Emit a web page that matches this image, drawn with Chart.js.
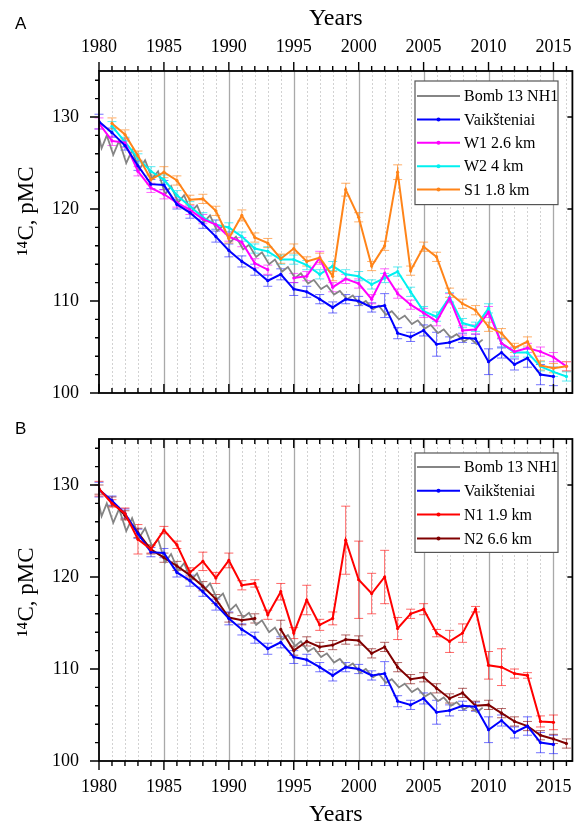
<!DOCTYPE html>
<html>
<head>
<meta charset="utf-8">
<title>14C in tree rings</title>
<script src="https://cdn.jsdelivr.net/npm/chart.js@4.4.1/dist/chart.umd.min.js"></script>
<style>
  html, body { margin: 0; padding: 0; background: #fff; overflow: hidden; }
  #wrap { position: relative; width: 574px; height: 830px; overflow: hidden; }
  .panel { position: absolute; left: 0; width: 574px; }
  #panelA { top: 0; height: 400px; }
  #panelB { top: 400px; height: 430px; }
  .tag { position: absolute; left: 15px; font: 17px 'Liberation Sans', Arial, sans-serif; color: #000; line-height: 20px; }
</style>
</head>
<body>
<div id="wrap">
  <div class="panel" id="panelA"><canvas id="chartA"></canvas></div>
  <div class="panel" id="panelB"><canvas id="chartB"></canvas></div>
  <div class="tag" style="top:14px">A</div>
  <div class="tag" style="top:419px">B</div>
</div>
<script>
// ── Data (pMC) ──────────────────────────────────────────────
const years = [1980, 1981, 1982, 1983, 1984, 1985, 1986, 1987, 1988, 1989,
               1990, 1991, 1992, 1993, 1994, 1995, 1996, 1997, 1998, 1999,
               2000, 2001, 2002, 2003, 2004, 2005, 2006, 2007, 2008, 2009,
               2010, 2011, 2012, 2013, 2014, 2015, 2016];

const vaiksteniai    = [129.5, 128.3, 126.9, 124.7, 122.7, 122.6, 120.5, 119.6, 118.4, 117.0,
                        115.5, 114.3, 113.4, 112.2, 112.9, 111.3, 111.0, 110.2, 109.3, 110.2,
                        110.0, 109.3, 109.5, 106.5, 106.1, 106.8, 105.3, 105.5, 106.0, 105.9,
                        103.4, 104.4, 103.1, 103.8, 102.0, 101.8, null];
const vaiksteniaiErr = [0.8, 0.5, 0.5, 0.5, 0.5, 0.5, 0.5, 0.6, 0.5, 0.6,
                        0.7, 0.6, 0.6, 0.6, 0.6, 0.7, 0.6, 0.5, 0.6, 0.5,
                        0.5, 0.5, 1.3, 0.6, 0.5, 0.6, 1.3, 0.6, 0.5, 0.5,
                        1.4, 0.6, 0.6, 1.0, 1.1, 1.0, null];

const w1    = [129.3, 127.4, 127.2, 124.1, 122.3, 121.6, 120.7, 119.9, 118.9, 118.3,
               117.0, 116.4, 114.1, 113.4, null, 112.5, 112.7, 114.7, 111.5, 112.4,
               111.9, 110.2, 113.0, 110.8, 109.6, 108.7, 107.8, 110.3, 106.8, 106.9,
               108.8, 105.4, 104.5, 104.9, 104.5, 103.9, 102.9];
const w1Err = [0.6, 0.5, 0.5, 0.5, 0.5, 0.5, 0.5, 0.5, 0.5, 0.5,
               0.5, 0.5, 0.5, 0.5, null, 0.5, 0.5, 0.7, 0.5, 0.5,
               0.5, 0.5, 0.5, 0.5, 0.5, 0.5, 0.5, 0.5, 0.5, 0.5,
               0.6, 0.5, 0.5, 0.5, 0.5, 0.5, 0.5];

const w2    = [null, 129.0, 127.3, 125.5, 124.1, 123.2, 121.5, 120.3, 119.1, 118.3,
               118.0, 117.0, 115.7, 115.4, 114.5, 114.5, 113.9, 112.9, 113.8, 112.9,
               112.7, 111.8, 112.5, 113.2, 111.0, 108.9, 108.3, 110.4, 107.6, 107.2,
               109.2, 105.4, 104.4, 104.4, 102.9, 102.3, 101.8];
const w2Err = [null, 0.5, 0.5, 0.5, 0.5, 0.5, 0.5, 0.5, 0.5, 0.5,
               0.5, 0.5, 0.5, 0.5, 0.5, 0.5, 0.5, 0.5, 0.5, 0.5,
               0.5, 0.5, 0.5, 0.5, 0.5, 0.5, 0.5, 0.5, 0.5, 0.5,
               0.5, 0.5, 0.5, 0.5, 0.5, 0.5, 0.5];

const s1    = [null, 129.3, 128.1, 125.8, 123.2, 124.0, 123.1, 121.0, 121.1, 119.8,
               116.8, 119.3, 116.9, 116.3, 114.6, 115.7, 114.3, 114.7, 112.7, 122.1,
               119.1, 113.8, 116.0, 124.0, 113.3, 115.9, 114.8, 110.9, 109.7, 109.0,
               107.2, 106.5, 104.9, 105.6, 103.0, 102.7, 102.9];
const s1Err = [null, 0.6, 0.5, 0.5, 0.5, 0.6, 0.5, 0.5, 0.5, 0.5,
               0.5, 0.6, 0.5, 0.5, 0.5, 0.5, 0.5, 0.5, 0.5, 0.7,
               0.5, 0.5, 0.5, 0.8, 0.5, 0.5, 0.5, 0.5, 0.5, 0.5,
               0.5, 0.5, 0.5, 0.5, 0.5, 0.5, 0.5];

const n1    = [129.6, 128.0, 126.9, 124.1, 123.0, 125.1, 123.5, 120.5, 121.7, 119.9,
               121.8, 119.1, 119.3, 115.9, 118.4, 113.9, 117.5, 114.8, 115.5, 124.0,
               119.7, 118.2, 120.0, 114.4, 116.0, 116.5, 113.9, 113.0, 113.9, 116.5,
               110.4, 110.2, 109.5, 109.3, 104.3, 104.2, null];
const n1Err = [0.8, 0.4, 0.6, 1.6, 0.4, 0.4, 0.4, 0.5, 1.0, 0.6,
               0.8, 0.5, 0.4, 0.5, 0.9, 0.6, 1.6, 0.6, 0.7, 3.7,
               4.2, 2.2, 2.9, 1.2, 0.5, 0.6, 0.4, 1.2, 1.0, 0.3,
               1.5, 2.0, 0.5, 0.3, 0.6, 0.8, null];

const n2    = [129.5, 128.2, 126.7, 124.8, 123.0, 122.1, 121.2, 120.2, 119.0, 117.6,
               115.6, 115.3, 115.5, null, 114.3, 112.0, 113.0, 112.4, 112.6, 113.2,
               113.1, 111.7, 112.4, 110.2, 108.9, 109.1, 107.9, 106.8, 107.4, 106.0,
               106.1, 105.2, 104.3, 103.8, 102.8, 102.4, 101.9];
const n2Err = [0.5, 0.5, 0.5, 0.5, 0.5, 0.5, 0.5, 0.5, 0.5, 0.5,
               0.5, 0.5, 0.5, null, 1.0, 0.5, 0.5, 0.5, 0.5, 0.5,
               0.5, 0.5, 0.5, 0.5, 0.5, 0.5, 0.5, 0.5, 0.5, 0.5,
               0.5, 0.5, 0.5, 0.5, 0.5, 0.5, 0.5];

// Bomb13 NH1 atmospheric curve (seasonal lows / highs)
const bombYears  = [1980.0, 1980.2, 1980.6, 1981.1, 1981.55, 1982.1, 1982.55, 1983.1, 1983.55,
                    1984.1, 1984.55, 1985.1, 1985.55, 1986.1, 1986.55, 1987.1, 1987.55,
                    1988.1, 1988.55, 1989.1, 1989.55, 1990.1, 1990.55, 1991.1, 1991.55,
                    1992.1, 1992.55, 1993.1, 1993.55, 1994.1, 1994.55, 1995.1, 1995.55,
                    1996.1, 1996.55, 1997.1, 1997.55, 1998.1, 1998.55, 1999.1, 1999.55,
                    2000.1, 2000.55, 2001.1, 2001.55, 2002.1, 2002.55, 2003.1, 2003.55,
                    2004.1, 2004.55, 2005.1, 2005.55, 2006.1, 2006.55, 2007.1, 2007.55,
                    2008.1, 2008.55, 2009.1, 2009.55];
const bombValues = [127.9, 126.6, 128.0, 125.9, 127.4, 125.0, 126.4, 124.3, 125.3,
                    123.3, 124.1, 121.6, 122.5, 120.7, 121.5, 119.7, 120.4,
                    118.6, 119.3, 117.6, 118.2, 116.4, 117.0, 115.6, 116.1,
                    114.8, 115.3, 114.0, 114.5, 113.2, 113.7, 112.5, 113.0,
                    111.9, 112.3, 111.3, 111.7, 110.7, 111.1, 110.2, 110.6,
                    109.6, 110.0, 109.1, 109.5, 108.5, 108.9, 108.0, 108.4,
                    107.5, 107.9, 107.0, 107.4, 106.5, 106.9, 106.0, 106.4,
                    105.6, 106.0, 105.3, 105.8];

const yearTicks = [1980, 1985, 1990, 1995, 2000, 2005, 2010, 2015];
const pmcTicks  = [100, 110, 120, 130];

// ── Helpers ─────────────────────────────────────────────────
const SERIF = "'Liberation Serif', 'Times New Roman', serif";

const pts = (xs, ys) => xs.map((x, i) => ({ x, y: ys[i] }));

function series(label, vals, errs, color, errColor, order) {
  return {
    label, data: pts(years, vals), errors: errs, errorColor: errColor,
    borderColor: color, backgroundColor: color, borderWidth: 2,
    pointRadius: 1.6, pointHoverRadius: 0, pointBorderWidth: 0,
    tension: 0, spanGaps: false, order,
  };
}

function bombSeries() {
  return {
    label: 'Bomb 13 NH1', data: pts(bombYears, bombValues),
    borderColor: '#858585', backgroundColor: '#858585', borderWidth: 1.8,
    pointRadius: 0, tension: 0, order: 9,
  };
}

// kill the label-overflow padding Chart.js adds, so the plot box sits where we put it
function noPad(s) { s.paddingLeft = s.paddingRight = s.paddingTop = s.paddingBottom = 0; }

// vertical year grid, frame and tick marks
const frameAxes = {
  id: 'frameAxes',
  beforeDatasetsDraw(chart) {
    const { ctx, chartArea: a, scales: { x } } = chart;
    ctx.save();
    for (let yr = 1981; yr <= 2016; yr++) {
      const px = Math.round(x.getPixelForValue(yr)) + 0.5;
      const major = yr % 5 === 0;
      ctx.beginPath();
      ctx.setLineDash(major ? [] : [2, 2]);
      ctx.strokeStyle = major ? '#a9a9a9' : '#d2d2d2';
      ctx.lineWidth = major ? 1.3 : 1;
      ctx.moveTo(px, a.top); ctx.lineTo(px, a.bottom);
      ctx.stroke();
    }
    ctx.restore();
  },
  afterDatasetsDraw(chart, args, opts) {
    const { ctx, chartArea: a, scales: { x, y } } = chart;
    const dir = opts.outer === 'top' ? -1 : 1;
    ctx.save();
    ctx.setLineDash([]);
    ctx.strokeStyle = '#000';
    ctx.lineWidth = 1.4;
    ctx.beginPath();
    for (let yr = 1980; yr <= 2016; yr++) {
      const px = x.getPixelForValue(yr);
      const len = yr % 5 === 0 ? 9 : 5;
      ctx.moveTo(px, a.top); ctx.lineTo(px, a.top + dir * len);
      ctx.moveTo(px, a.bottom); ctx.lineTo(px, a.bottom + dir * len);
    }
    for (let v = 100; v <= 134; v += 2) {
      const py = y.getPixelForValue(v);
      const major = v % 10 === 0;
      ctx.moveTo(a.left, py); ctx.lineTo(a.left - (major ? 9 : 4), py);
      if (major) { ctx.moveTo(a.right, py); ctx.lineTo(a.right - 5, py); }
    }
    ctx.stroke();
    ctx.lineWidth = 1.8;
    ctx.strokeRect(a.left, a.top, a.right - a.left, a.bottom - a.top);

    // rotated y title, sits a little above the box centre as in the print
    ctx.translate(opts.titleX, opts.titleY);
    ctx.rotate(-Math.PI / 2);
    ctx.font = `23px ${SERIF}`;
    ctx.fillStyle = '#000';
    ctx.textAlign = 'center';
    ctx.textBaseline = 'middle';
    ctx.fillText('¹⁴C, pMC', 0, 0);
    ctx.restore();
  }
};

const errorBars = {
  id: 'errorBars',
  beforeDatasetsDraw(chart) {
    const { ctx, scales: { x, y } } = chart;
    chart.data.datasets.forEach(ds => {
      if (!ds.errors) return;
      ctx.save();
      ctx.strokeStyle = ds.errorColor;
      ctx.lineWidth = 1;
      ds.data.forEach((p, j) => {
        const e = ds.errors[j];
        if (p.y == null || e == null) return;
        const px = x.getPixelForValue(p.x);
        const top = y.getPixelForValue(p.y + e);
        const bot = y.getPixelForValue(p.y - e);
        ctx.beginPath();
        ctx.moveTo(px, top); ctx.lineTo(px, bot);
        ctx.moveTo(px - 4.5, top); ctx.lineTo(px + 4.5, top);
        ctx.moveTo(px - 4.5, bot); ctx.lineTo(px + 4.5, bot);
        ctx.stroke();
      });
      ctx.restore();
    });
  }
};

const boxLegend = {
  id: 'boxLegend',
  afterDraw(chart, args, o) {
    const { ctx } = chart;
    const items = chart.data.datasets;
    const h = o.first * 2 + (items.length - 1) * o.rowH;
    ctx.save();
    ctx.fillStyle = '#fff';
    ctx.fillRect(o.left, o.top, o.width, h);
    ctx.strokeStyle = '#555';
    ctx.lineWidth = 1.2;
    ctx.strokeRect(o.left, o.top, o.width, h);
    ctx.font = `16px ${SERIF}`;
    ctx.textBaseline = 'middle';
    items.forEach((ds, i) => {
      const cy = o.top + o.first + i * o.rowH;
      ctx.strokeStyle = ds.borderColor;
      ctx.lineWidth = ds.borderWidth;
      ctx.beginPath();
      ctx.moveTo(o.left + 2, cy); ctx.lineTo(o.left + 45, cy);
      ctx.stroke();
      if (ds.pointRadius) {
        ctx.fillStyle = ds.borderColor;
        ctx.beginPath(); ctx.arc(o.left + 23.5, cy, 2, 0, Math.PI * 2); ctx.fill();
      }
      ctx.fillStyle = '#000';
      ctx.fillText(ds.label, o.left + 49, cy + 1);
    });
    ctx.restore();
  }
};

function makePanel(canvasId, xPos, datasets, legendPos, titleY) {
  const isTop = xPos === 'top';
  return new Chart(document.getElementById(canvasId), {
    type: 'line',
    data: { datasets },
    options: {
      responsive: true, maintainAspectRatio: false, animation: false,
      layout: { padding: isTop ? { left: 0, right: 1, top: 0, bottom: 7 } : { left: 0, right: 1, top: 39, bottom: 0 } },
      plugins: {
        legend: { display: false },
        tooltip: { enabled: false },
        frameAxes: { outer: xPos, titleX: 27, titleY },
        boxLegend: legendPos,
      },
      scales: {
        x: {
          type: 'linear', position: xPos, min: 1980, max: 2016.46,
          afterBuildTicks: s => { s.ticks = yearTicks.map(v => ({ value: v })); },
          afterFit: s => { s.height = isTop ? 71 : 69; noPad(s); },
          grid: { display: false, drawTicks: false },
          border: { display: false },
          ticks: {
            font: { family: SERIF, size: 18 }, color: '#000', padding: isTop ? 13 : 15,
            maxRotation: 0, autoSkip: false, callback: v => String(v),
          },
          title: {
            display: true, text: 'Years', color: '#000',
            font: { family: SERIF, size: 24 },
            padding: isTop ? { top: 4, bottom: 0 } : { top: 0, bottom: 1 },
          },
        },
        y: {
          min: 100, max: 135,
          afterBuildTicks: s => { s.ticks = pmcTicks.map(v => ({ value: v })); },
          afterFit: s => { s.width = 99; noPad(s); },
          grid: { display: false, drawTicks: false },
          border: { display: false },
          ticks: { font: { family: SERIF, size: 18 }, color: '#000', padding: 20, callback: v => String(v) },
        },
      },
    },
    plugins: [frameAxes, errorBars, boxLegend],
  });
}

makePanel('chartA', 'top', [
  bombSeries(),
  series('Vaikšteniai', vaiksteniai, vaiksteniaiErr, '#0000ff', 'rgba(40,40,255,0.65)', 1),
  series('W1 2.6 km', w1, w1Err, '#ff00ff', 'rgba(255,0,255,0.6)', 3),
  series('W2 4 km', w2, w2Err, '#00f0f0', 'rgba(0,225,235,0.65)', 4),
  series('S1 1.8 km', s1, s1Err, '#ff8419', 'rgba(255,132,25,0.65)', 2),
], { left: 415, top: 81, width: 143, first: 15, rowH: 23.4 }, 211);

makePanel('chartB', 'bottom', [
  bombSeries(),
  series('Vaikšteniai', vaiksteniai, vaiksteniaiErr, '#0000ff', 'rgba(40,40,255,0.65)', 2),
  series('N1 1.9 km', n1, n1Err, '#ff0000', 'rgba(255,0,0,0.6)', 1),
  series('N2 6.6 km', n2, n2Err, '#800000', 'rgba(128,0,0,0.6)', 3),
], { left: 415, top: 53, width: 143, first: 14, rowH: 23.8 }, 192);
</script>
</body>
</html>
